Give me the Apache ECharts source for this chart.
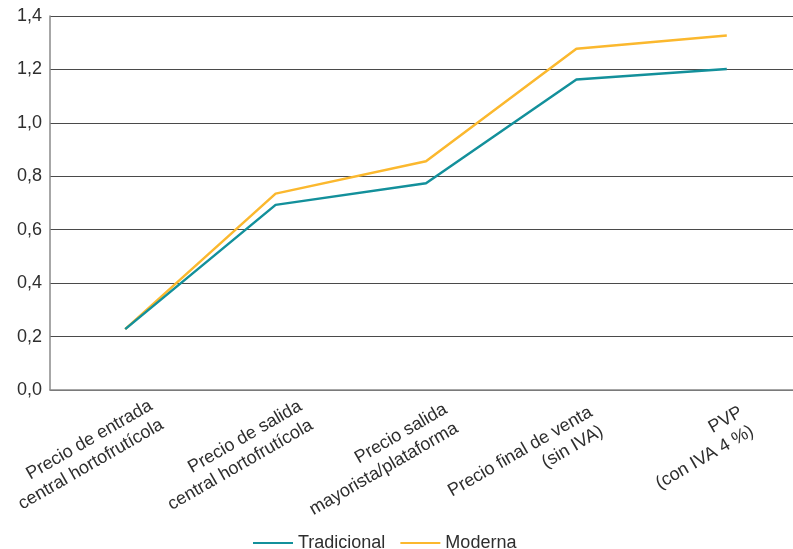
<!DOCTYPE html>
<html>
<head>
<meta charset="utf-8">
<title>Precios</title>
<script src="https://cdn.jsdelivr.net/npm/echarts@6/dist/echarts.min.js"></script>
<style>
  html, body { margin: 0; padding: 0; background: #fff; }
  #chart { width: 793px; height: 549px; }
</style>
</head>
<body>
<div id="chart"></div>
<script>
// Price stages along the supply chain
var categories = [
  ['Precio de entrada', 'central hortofrutícola'],
  ['Precio de salida', 'central hortofrutícola'],
  ['Precio salida', 'mayorista/plataforma'],
  ['Precio final de venta', '(sin IVA)'],
  ['PVP', '(con IVA 4 %)']
];
var tradicional = [0.228, 0.693, 0.774, 1.162, 1.202];
var moderna = [0.228, 0.735, 0.856, 1.277, 1.327];
var yTicks = { min: 0, max: 1.4, step: 0.2 };

// Horizontal nudge (px, along the rotated text) for each category label
var labelNudge = [36, 35, 29, 23, 23];

var textColor = '#2e2e2e';
var fontFamily = '"Liberation Sans", Arial, sans-serif';

var chart = echarts.init(document.getElementById('chart'), null, { renderer: 'canvas' });

chart.setOption({
  backgroundColor: '#ffffff',
  animation: false,
  textStyle: { fontFamily: fontFamily, color: textColor },
  grid: {
    left: 50, top: 16, right: -9, bottom: 159,
    containLabel: false,
    outerBoundsMode: 'none'
  },
  legend: {
    left: 248, top: 529,
    itemWidth: 40, itemHeight: 14, itemGap: 15,
    icon: 'path://M0,6 L40,6 L40,8 L0,8 Z',
    textStyle: { fontSize: 18, color: textColor, fontFamily: fontFamily },
    data: ['Tradicional', 'Moderna']
  },
  xAxis: {
    type: 'category',
    boundaryGap: true,
    data: categories.map(function (c, i) {
      return { value: c.join('\n'), textStyle: { padding: [0, -labelNudge[i], 0, 0] } };
    }),
    axisLine: { show: true, lineStyle: { color: '#8a8a8a', width: 1.5 } },
    axisTick: { show: false },
    splitLine: { show: false },
    axisLabel: {
      interval: 0,
      rotate: 30,
      margin: 42,
      fontSize: 18,
      lineHeight: 22,
      color: textColor,
      fontFamily: fontFamily
    }
  },
  yAxis: {
    type: 'value',
    min: yTicks.min, max: yTicks.max, interval: yTicks.step,
    axisLine: { show: true, lineStyle: { color: '#8a8a8a', width: 1.5 } },
    axisTick: { show: false },
    splitLine: { show: true, lineStyle: { color: '#4a4a4a', width: 1 } },
    axisLabel: {
      margin: 8,
      fontSize: 18,
      color: textColor,
      fontFamily: fontFamily,
      formatter: function (v) { return v.toFixed(1).replace('.', ','); }
    }
  },
  series: [
    {
      name: 'Tradicional',
      type: 'line',
      data: tradicional,
      symbol: 'none',
      lineStyle: { color: '#13909b', width: 2.5 },
      itemStyle: { color: '#13909b' },
      z: 3
    },
    {
      name: 'Moderna',
      type: 'line',
      data: moderna,
      symbol: 'none',
      lineStyle: { color: '#fbb82e', width: 2.5 },
      itemStyle: { color: '#fbb82e' },
      z: 2
    }
  ]
});
</script>
</body>
</html>
